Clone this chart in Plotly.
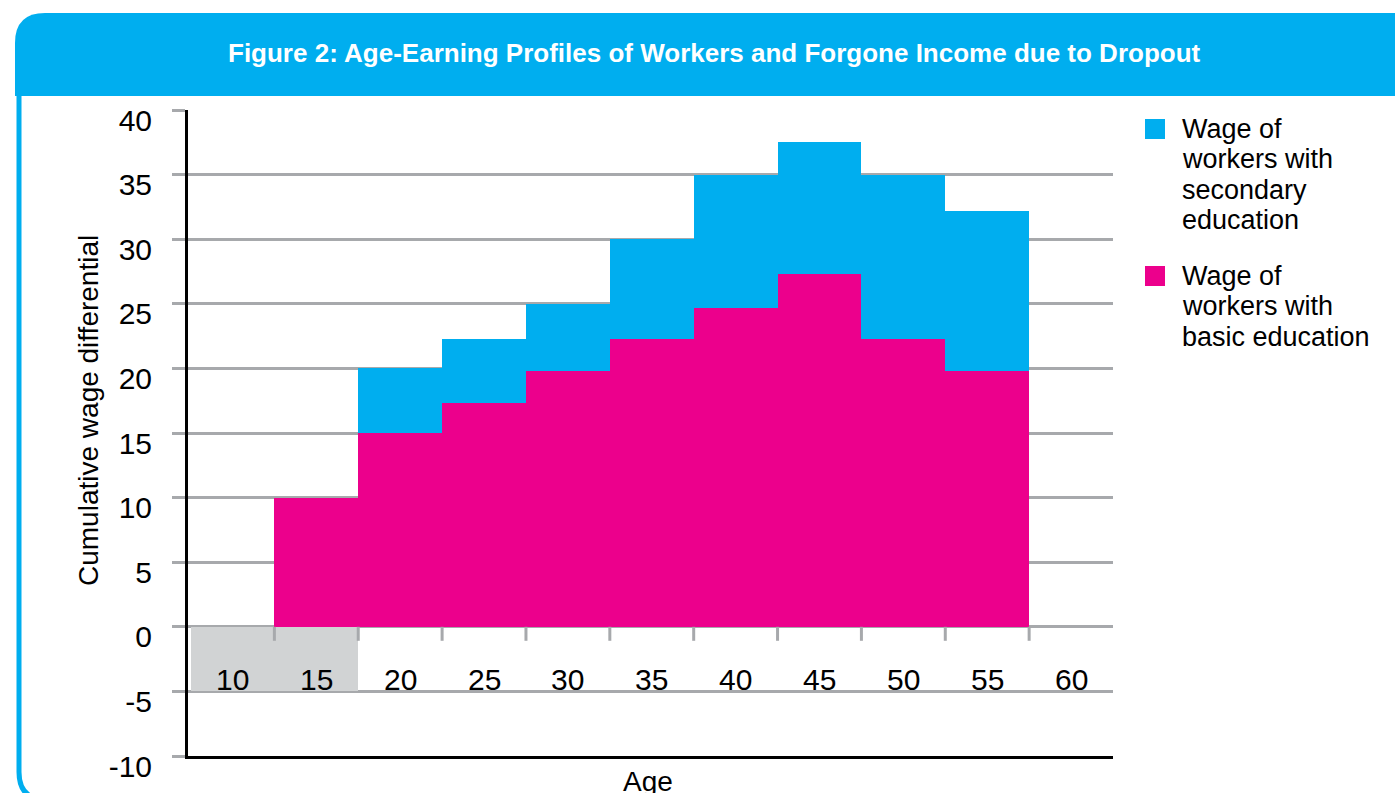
import plotly.graph_objects as go

# ---------------- data ----------------
ages = [10, 15, 20, 25, 30, 35, 40, 45, 50, 55, 60]
age_labels = [str(a) for a in ages]
wage_secondary = [0, 0, 20.0, 22.3, 25.0, 30.0, 35.0, 37.5, 35.0, 32.2, 0]
wage_basic = [0, 10.0, 15.0, 17.3, 19.8, 22.3, 24.7, 27.3, 22.3, 19.8, 0]
school_cost = [-5, -5, 0, 0, 0, 0, 0, 0, 0, 0, 0]
series_lines = [["Wage of", "workers with", "secondary", "education"],
                ["Wage of", "workers with", "basic education"]]
y_ticks = [-10, -5, 0, 5, 10, 15, 20, 25, 30, 35, 40]
title_text = "Figure 2: Age-Earning Profiles of Workers and Forgone Income due to Dropout"
x_title = "Age"
y_title = "Cumulative wage differential"

# ---------------- style ----------------
BLUE = "#00aeef"
PINK = "#ec008c"
GREY_BOX = "#d1d3d4"
GRID = "#a7a9ac"
W, H = 1395, 793
L, R, T, B = 188, 1113, 110, 756
FONT = "Liberation Sans, Arial, sans-serif"


def px(x):
    return (x - L) / (R - L)


def py(y):
    return (B - y) / (B - T)


def pt(x, y):
    return f"{px(x):.5f},{py(y):.5f}"


fig = go.Figure()
fig.add_trace(go.Bar(x=ages, y=school_cost, width=5, marker=dict(color=GREY_BOX, line=dict(width=0)),
                     showlegend=False, hoverinfo="skip"))
fig.add_trace(go.Bar(x=ages, y=wage_secondary, width=5, marker=dict(color=BLUE, line=dict(width=0)),
                     name="secondary", showlegend=False))
fig.add_trace(go.Bar(x=ages, y=wage_basic, width=5, marker=dict(color=PINK, line=dict(width=0)),
                     name="basic", showlegend=False))

shapes = []
# header band
shapes.append(dict(type="path", xref="paper", yref="paper", layer="below",
                   path=f"M{pt(15,96)} L{pt(15,43)} Q{pt(15,13)} {pt(45,13)} L{pt(1405,13)} L{pt(1405,96)} Z",
                   fillcolor=BLUE, line=dict(width=0)))
# frame left border
shapes.append(dict(type="path", xref="paper", yref="paper", layer="below",
                   path=f"M{pt(19,90)} L{pt(19,772)} Q{pt(19,800)} {pt(47,800)}",
                   line=dict(color=BLUE, width=5)))
# boundary ticks under zero line
for a, b in zip(ages[:-1], ages[1:]):
    m = (a + b) / 2
    shapes.append(dict(type="line", xref="x", yref="y", ysizemode="pixel", yanchor=0,
                       x0=m, x1=m, y0=0, y1=-14, line=dict(color=GRID, width=3), layer="above"))

annotations = []
annotations.append(dict(text=f"<b>{title_text}</b>", xref="paper", yref="paper",
                        x=px(714), y=py(53), xanchor="center", yanchor="middle", showarrow=False,
                        font=dict(family=FONT, size=26, color="white")))
for a, lab in zip(ages, age_labels):
    annotations.append(dict(text=lab, x=a, y=-5, xref="x", yref="y", xanchor="center", yanchor="bottom",
                            yshift=-7, showarrow=False, font=dict(family=FONT, size=30, color="black")))
annotations.append(dict(text=y_title, xref="paper", yref="paper", x=px(88), y=py(411), textangle=-90,
                        xanchor="center", yanchor="middle", showarrow=False,
                        font=dict(family=FONT, size=28, color="black")))
annotations.append(dict(text=x_title, xref="paper", yref="paper", x=px(648), y=py(764), xanchor="center",
                        yanchor="top", showarrow=False, font=dict(family=FONT, size=28, color="black")))
# legend
for lines, col, top in zip(series_lines, [BLUE, PINK], [119, 266]):
    shapes.append(dict(type="rect", xref="paper", yref="paper", x0=px(1145), x1=px(1165),
                       y0=py(top), y1=py(top + 20), fillcolor=col, line=dict(width=0)))
    for k, line in enumerate(lines):
        annotations.append(dict(text=line, xref="paper", yref="paper", x=px(1180), y=py(top + 10 + 30.3 * k),
                                xanchor="left", yanchor="middle", align="left", showarrow=False,
                                font=dict(family=FONT, size=27, color="black")))

fig.update_layout(
    width=W, height=H,
    margin=dict(l=L, r=W - R, t=T, b=H - B, pad=0),
    paper_bgcolor="white", plot_bgcolor="white",
    barmode="overlay", bargap=0,
    showlegend=False,
    shapes=shapes, annotations=annotations,
    xaxis=dict(range=[7.35, 62.5], showgrid=False, zeroline=False, showticklabels=False, ticks="",
               showline=True, linecolor="black", linewidth=3, fixedrange=True, automargin=False),
    yaxis=dict(range=[-10, 40], tickvals=y_ticks, ticktext=[str(v) for v in y_ticks],
               showgrid=True, gridcolor=GRID, gridwidth=3, zeroline=False,
               ticks="outside", ticklen=13, tickwidth=3, tickcolor=GRID, ticklabelstandoff=14,
               ticklabelshift=10, automargin=False,
               showline=True, linecolor="black", linewidth=3,
               tickfont=dict(family=FONT, size=30, color="black"), fixedrange=True),
)

fig.write_html("out.html", config={"displayModeBar": False},
               post_script="document.body.style.margin='0';document.body.style.overflow='hidden';")
